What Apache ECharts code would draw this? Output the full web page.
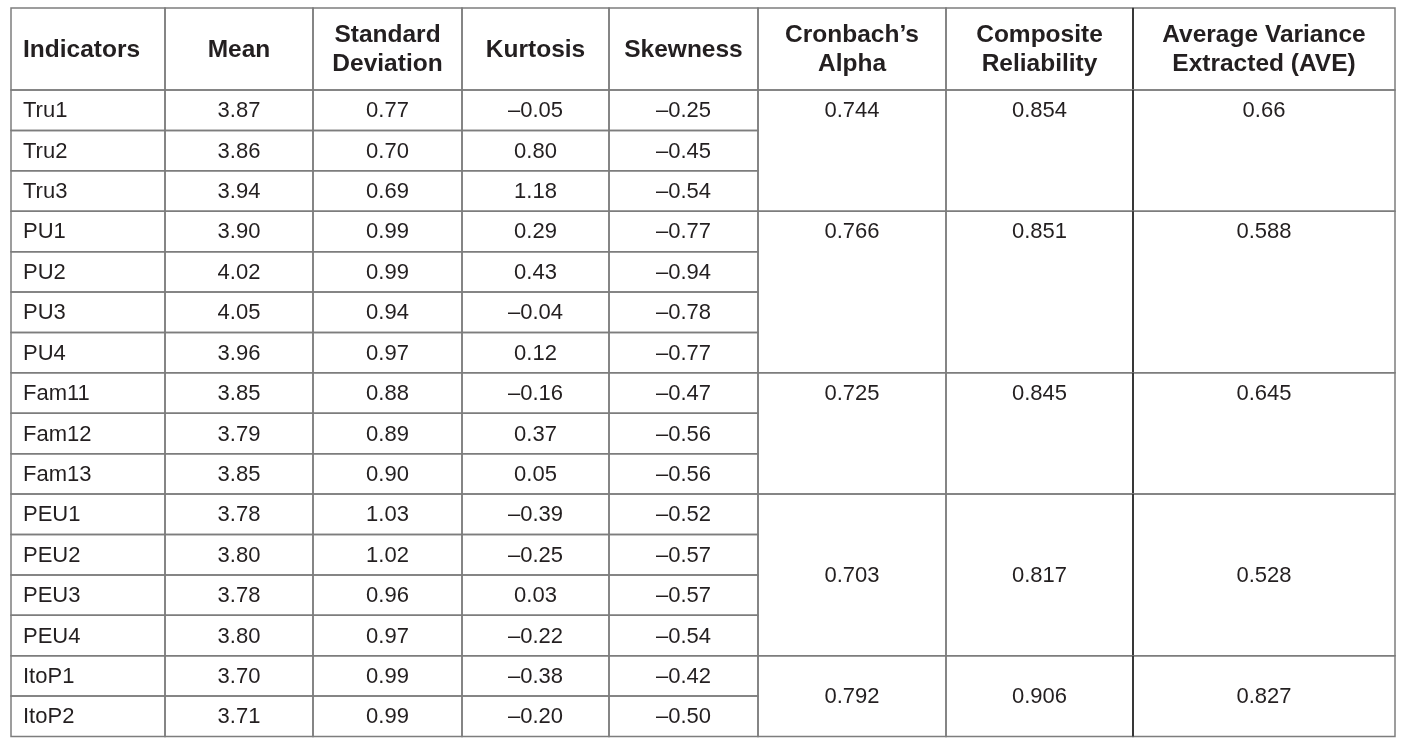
<!DOCTYPE html>
<html>
<head>
<meta charset="utf-8">
<script src="https://cdn.jsdelivr.net/npm/echarts@6/dist/echarts.min.js"></script>
<style>
html,body{margin:0;padding:0;background:#fff;}
#chart{width:1415px;height:738px;}
</style>
</head>
<body>
<div id="chart"></div>
<script>
// ---- data ----
const headers = ['Indicators','Mean','Standard\nDeviation','Kurtosis','Skewness','Cronbach\u2019s\nAlpha','Composite\nReliability','Average Variance\nExtracted (AVE)'];
const indicators = ['Tru1','Tru2','Tru3','PU1','PU2','PU3','PU4','Fam11','Fam12','Fam13','PEU1','PEU2','PEU3','PEU4','ItoP1','ItoP2'];
const mean = [3.87,3.86,3.94,3.90,4.02,4.05,3.96,3.85,3.79,3.85,3.78,3.80,3.78,3.80,3.70,3.71];
const stdDev = [0.77,0.70,0.69,0.99,0.99,0.94,0.97,0.88,0.89,0.90,1.03,1.02,0.96,0.97,0.99,0.99];
const kurtosis = [-0.05,0.80,1.18,0.29,0.43,-0.04,0.12,-0.16,0.37,0.05,-0.39,-0.25,0.03,-0.22,-0.38,-0.20];
const skewness = [-0.25,-0.45,-0.54,-0.77,-0.94,-0.78,-0.77,-0.47,-0.56,-0.56,-0.52,-0.57,-0.57,-0.54,-0.42,-0.50];
const groupSizes = [3,4,3,4,2];
const alpha = [0.744,0.766,0.725,0.703,0.792];
const compRel = [0.854,0.851,0.845,0.817,0.906];
const ave = [0.66,0.588,0.645,0.528,0.827];

// ---- layout (not data) ----
const colEdges = [0,154,302,451,598,747,935,1122,1384];
const headerH = 82;
const rowH = 40.4;
const groupVAlign = ['top','top','top','middle','middle'];
const totalH = headerH + rowH * indicators.length;

function fmt2(v){ return (v < 0 ? '\u2013' : '') + Math.abs(v).toFixed(2); }

const cells = [];
headers.forEach((h,c)=>{
  cells.push({c0:c,c1:c+1,y0:0,y1:headerH,text:h,bold:true,align:c===0?'left':'center',valign:'middle'});
});
indicators.forEach((name,r)=>{
  const y0 = headerH + r*rowH, y1 = y0 + rowH;
  const vals = [name, mean[r].toFixed(2), stdDev[r].toFixed(2), fmt2(kurtosis[r]), fmt2(skewness[r])];
  vals.forEach((t,c)=>{
    cells.push({c0:c,c1:c+1,y0,y1,text:t,bold:false,align:c===0?'left':'center',valign:'middle'});
  });
});
let start = 0;
groupSizes.forEach((n,g)=>{
  const y0 = headerH + start*rowH, y1 = headerH + (start+n)*rowH;
  [alpha[g], compRel[g], ave[g]].forEach((v,k)=>{
    cells.push({c0:5+k,c1:6+k,y0,y1,text:String(v),bold:false,align:'center',valign:groupVAlign[g]});
  });
  start += n;
});

const data = cells.map((c,i)=>[colEdges[c.c0], colEdges[c.c1], c.y0, c.y1, i]);

const FONT = 'Liberation Sans';

function renderItem(params, api){
  const cell = cells[api.value(4)];
  const p0 = api.coord([api.value(0), api.value(2)]);
  const p1 = api.coord([api.value(1), api.value(3)]);
  const x = p0[0], y = p0[1], w = p1[0]-p0[0], h = p1[1]-p0[1];
  const rowPx = api.coord([0,rowH])[1] - api.coord([0,0])[1];
  const tx = cell.align === 'left' ? x + 12 : x + w/2;
  const ty = cell.valign === 'top' ? y + rowPx/2 + 1 : y + h/2 + 1;
  const children = [
    {type:'rect', shape:{x:x,y:y,width:w,height:h}, style:{fill:null, stroke:'#7d7d7d', lineWidth:1.5}},
    {type:'text', x:tx, y:ty, style:{
      text:cell.text, fill:'#231f20',
      fontSize: cell.bold ? 24.5 : 22,
      fontWeight: cell.bold ? 'bold' : 'normal',
      fontFamily: FONT,
      lineHeight: 29,
      align: cell.align, verticalAlign:'middle'
    }}
  ];
  if (cell.c0 === 7) {
    children.push({type:'line', shape:{x1:x,y1:y,x2:x,y2:y+h}, style:{stroke:'#1f1f1f', lineWidth:1.5}});
  }
  return {type:'group', children:children};
}

const chart = echarts.init(document.getElementById('chart'), null, {renderer:'canvas'});
chart.setOption({
  animation:false,
  backgroundColor:'#ffffff',
  grid:{left:11, top:8, width:1384, height:728.5},
  xAxis:{type:'value', min:0, max:colEdges[colEdges.length-1], show:false},
  yAxis:{type:'value', min:0, max:totalH, inverse:true, show:false},
  series:[{
    type:'custom',
    renderItem:renderItem,
    data:data,
    silent:true,
    clip:false
  }]
});
</script>
</body>
</html>
